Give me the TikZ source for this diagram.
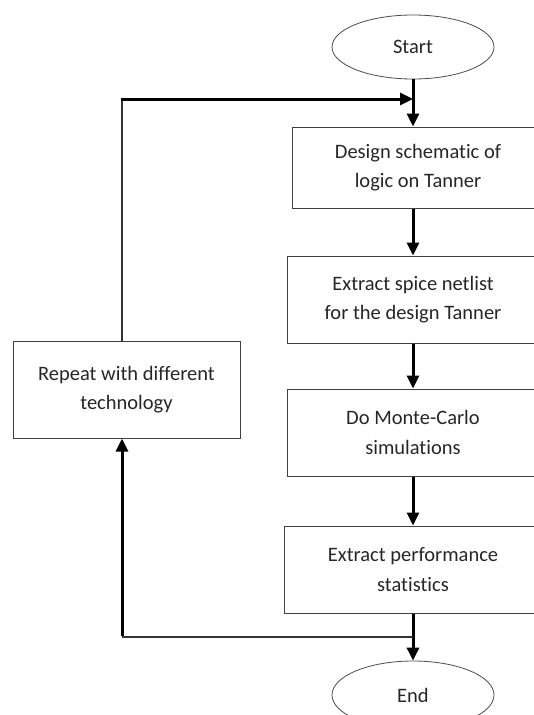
\documentclass[tikz,border=0pt]{standalone}
\usepackage{fontspec}
\setmainfont{Carlito}[Ligatures={NoCommon}]
\usetikzlibrary{arrows.meta,shapes.geometric}
\begin{document}
\begin{tikzpicture}[x=1pt,y=-1pt,
  boxstyle/.style={draw=black!75, line width=1pt, rectangle, inner sep=0pt, align=center,
    font=\fontsize{20.5}{29.5}\selectfont, text=black!85, minimum width=252pt, minimum height=87pt},
  termstyle/.style={draw=black!70, line width=0.8pt, ellipse, inner sep=0pt,
    font=\fontsize{20.5}{29.5}\selectfont, text=black!85, minimum width=162pt},
  arr/.style={line width=3pt, draw=black, -{Triangle[length=13pt,width=12pt]}},
  thinline/.style={line width=1.2pt, draw=black!80}]
\useasboundingbox (0,0) rectangle (534,715);
\clip (0,0) rectangle (534,715);
\node[termstyle, minimum height=64pt] (start) at (413,47) {Start};
\node[boxstyle, minimum width=252pt, minimum height=81pt] (b1) at (418,167.5) {Design schematic of\\logic on Tanner};
\node[boxstyle] (b2) at (413,299.5) {Extract spice netlist\\for the design Tanner};
\node[boxstyle] (b3) at (413,432.5) {Do Monte-Carlo\\simulations};
\node[boxstyle, minimum width=258pt] (b4) at (413,569.5) {Extract performance\\statistics};
\node[termstyle, minimum height=68pt] (end) at (413,695) {End};
\node[boxstyle, minimum width=227pt, minimum height=97pt] (rep) at (126.5,389.5) {Repeat with different\\technology};
\coordinate (jt) at (413,99);
\coordinate (lt) at (122,99);
\coordinate (jb) at (413,637);
\coordinate (lb) at (122,637);
\draw[arr] (start.south) -- (start.south |- b1.north);
\draw[arr] (start.south |- b1.south) -- (b2.north);
\draw[arr] (b2.south) -- (b3.north);
\draw[arr] (b3.south) -- (b4.north);
\draw[arr] (b4.south) -- (end.north);
\draw[thinline] (lt |- rep.north) -- (lt);
\draw[arr] ([xshift=-1.5pt]lt) -- (jt);
\draw[thinline] (jb) -- (lb);
\draw[arr] ([yshift=0.6pt]lb) -- (lb |- rep.south);
\end{tikzpicture}
\end{document}
